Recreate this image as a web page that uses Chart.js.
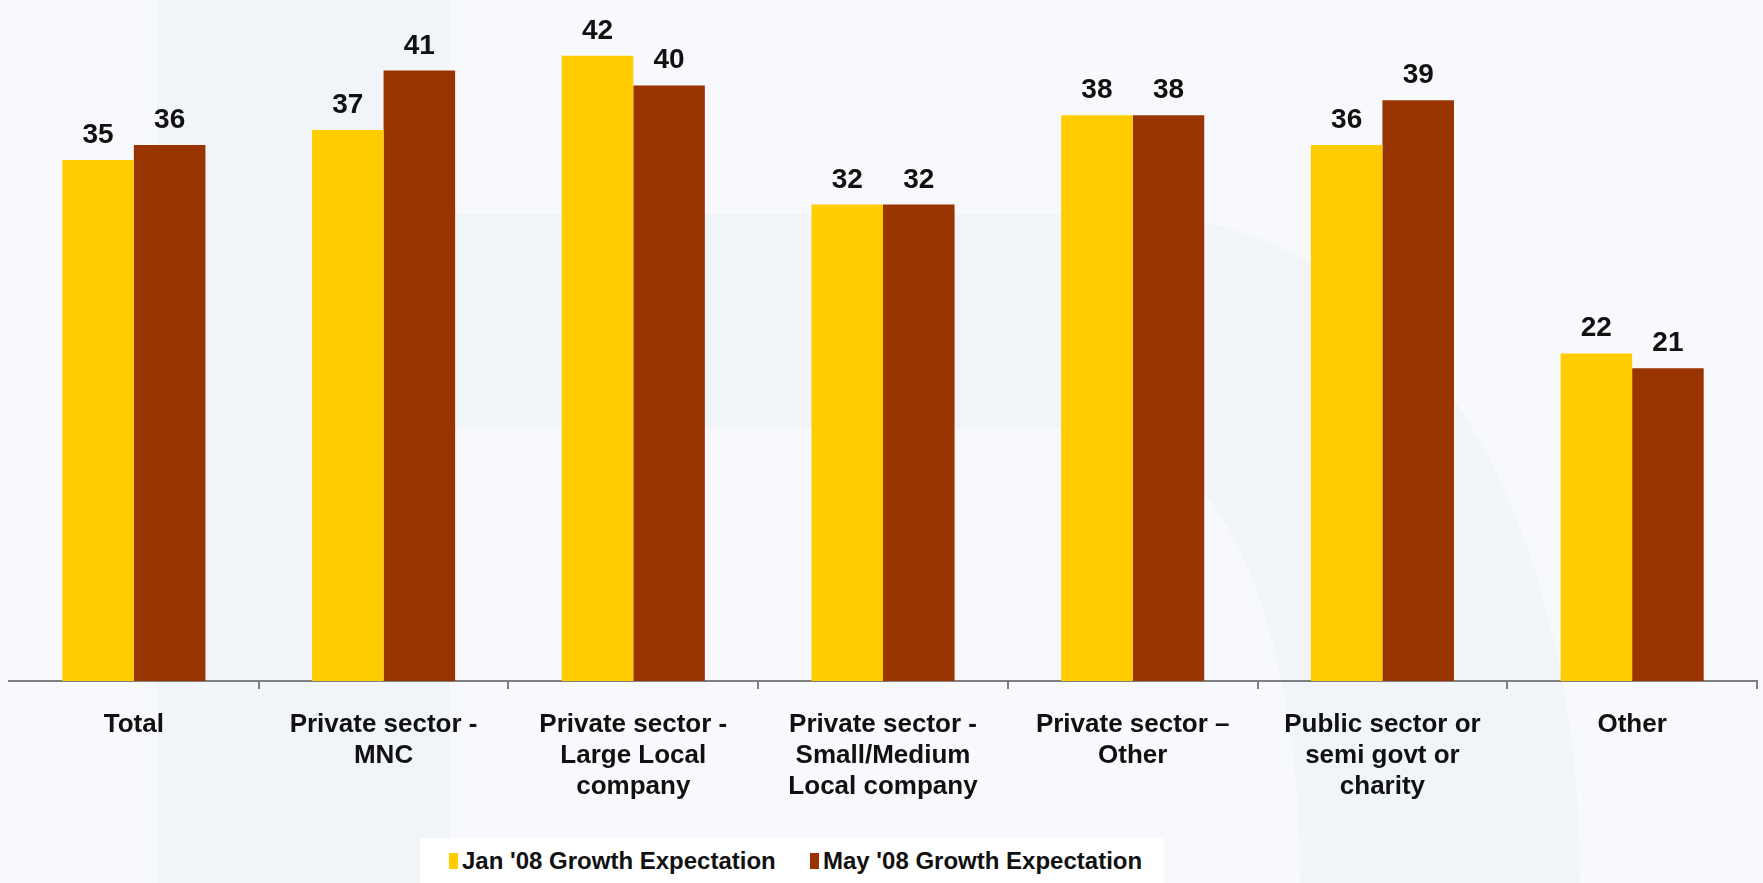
<!DOCTYPE html>
<html>
<head>
<meta charset="utf-8">
<script src="https://cdn.jsdelivr.net/npm/chart.js@4/dist/chart.umd.min.js"></script>
<style>
  html, body { margin: 0; padding: 0; background: #F8F9FC; }
  #wrap { position: relative; width: 1763px; height: 883px; }
  #chart { position: absolute; left: 0; top: 0; }
  #legend {
    position: absolute; left: 420px; top: 838px; width: 744px; height: 45px;
    background: #FFFFFF; font-family: "Liberation Sans", Arial, sans-serif;
    font-weight: bold; font-size: 24px; color: #111;
  }
  #legend .item { position: absolute; top: 0; height: 45px; display: flex; align-items: center; }
  #legend .box { width: 9px; height: 16px; margin-right: 4px; }
</style>
</head>
<body>
<div id="wrap">
  <canvas id="chart" width="1763" height="883"></canvas>
  <div id="legend"></div>
</div>
<script>
// Employer types
const categories = [
  ["Total"],
  ["Private sector -", "MNC"],
  ["Private sector -", "Large Local", "company"],
  ["Private sector -", "Small/Medium", "Local company"],
  ["Private sector \u2013", "Other"],
  ["Public sector or", "semi govt or", "charity"],
  ["Other"]
];

// Expected growth, by survey wave
const seriesNames = ["Jan '08 Growth Expectation", "May '08 Growth Expectation"];
const jan08 = [35, 37, 42, 32, 38, 36, 22];
const may08 = [36, 41, 40, 32, 38, 39, 21];

const seriesColors = ["#FFCC00", "#993300"];
const FONT = '"Liberation Sans", Arial, sans-serif';

// Soft watermark-like letter shape behind the chart
const backdrop = {
  id: 'backdrop',
  beforeDraw(chart) {
    const ctx = chart.ctx;
    const W = chart.width, H = chart.height;
    ctx.save();
    ctx.fillStyle = '#F8F9FC';
    ctx.fillRect(0, 0, W, H);
    ctx.fillStyle = '#F1F4F9';
    // stem
    ctx.fillRect(157, 0, 293, H);
    // bowl
    ctx.beginPath();
    ctx.moveTo(450, 214);
    ctx.lineTo(1120, 214);
    ctx.bezierCurveTo(1420, 214, 1580, 520, 1580, 883);
    ctx.lineTo(450, 883);
    ctx.closePath();
    ctx.fill();
    // counter of the bowl
    ctx.fillStyle = '#F8F9FC';
    ctx.beginPath();
    ctx.moveTo(450, 428);
    ctx.lineTo(1080, 428);
    ctx.bezierCurveTo(1230, 428, 1300, 640, 1300, 883);
    ctx.lineTo(450, 883);
    ctx.closePath();
    ctx.fill();
    ctx.restore();
  }
};

// Values printed above each bar
const valueLabels = {
  id: 'valueLabels',
  afterDatasetsDraw(chart) {
    const ctx = chart.ctx;
    ctx.save();
    ctx.font = 'bold 28px ' + FONT;
    ctx.fillStyle = '#111111';
    ctx.textAlign = 'center';
    ctx.textBaseline = 'alphabetic';
    chart.data.datasets.forEach((ds, di) => {
      chart.getDatasetMeta(di).data.forEach((bar, i) => {
        ctx.fillText(String(ds.data[i]), bar.x, bar.y - 17);
      });
    });
    ctx.restore();
  }
};

const chart = new Chart(document.getElementById('chart'), {
  type: 'bar',
  data: {
    labels: categories,
    datasets: [
      { label: seriesNames[0], data: jan08, backgroundColor: seriesColors[0] },
      { label: seriesNames[1], data: may08, backgroundColor: seriesColors[1] }
    ]
  },
  options: {
    responsive: false,
    animation: false,
    devicePixelRatio: 1,
    layout: { padding: { left: 9, right: 6, top: 11, bottom: 12 } },
    datasets: { bar: { categoryPercentage: 0.573, barPercentage: 1.0, borderWidth: 0 } },
    plugins: {
      legend: { display: false },
      tooltip: { enabled: false }
    },
    scales: {
      x: {
        grid: {
          offset: true,
          drawOnChartArea: false,
          drawTicks: true,
          tickLength: 8,
          lineWidth: 2,
          color: (c) => (c.index === 0 ? 'rgba(0,0,0,0)' : '#7F7F7F')
        },
        border: { display: true, color: '#7F7F7F', width: 2 },
        ticks: {
          color: '#111111',
          font: { family: FONT, weight: 'bold', size: 26, lineHeight: 1.2 },
          padding: 20,
          maxRotation: 0,
          autoSkip: false
        },
        afterFit(scale) { scale.height = 190; }
      },
      y: {
        display: false,
        min: 0,
        max: 45
      }
    }
  },
  plugins: [backdrop, valueLabels]
});

// Legend built from the chart's datasets
(function buildLegend() {
  const el = document.getElementById('legend');
  const xs = [29, 390];
  chart.data.datasets.forEach((ds, i) => {
    const item = document.createElement('div');
    item.className = 'item';
    item.style.left = xs[i] + 'px';
    const box = document.createElement('span');
    box.className = 'box';
    box.style.background = ds.backgroundColor;
    const txt = document.createElement('span');
    txt.textContent = ds.label;
    item.appendChild(box);
    item.appendChild(txt);
    el.appendChild(item);
  });
})();
</script>
</body>
</html>
